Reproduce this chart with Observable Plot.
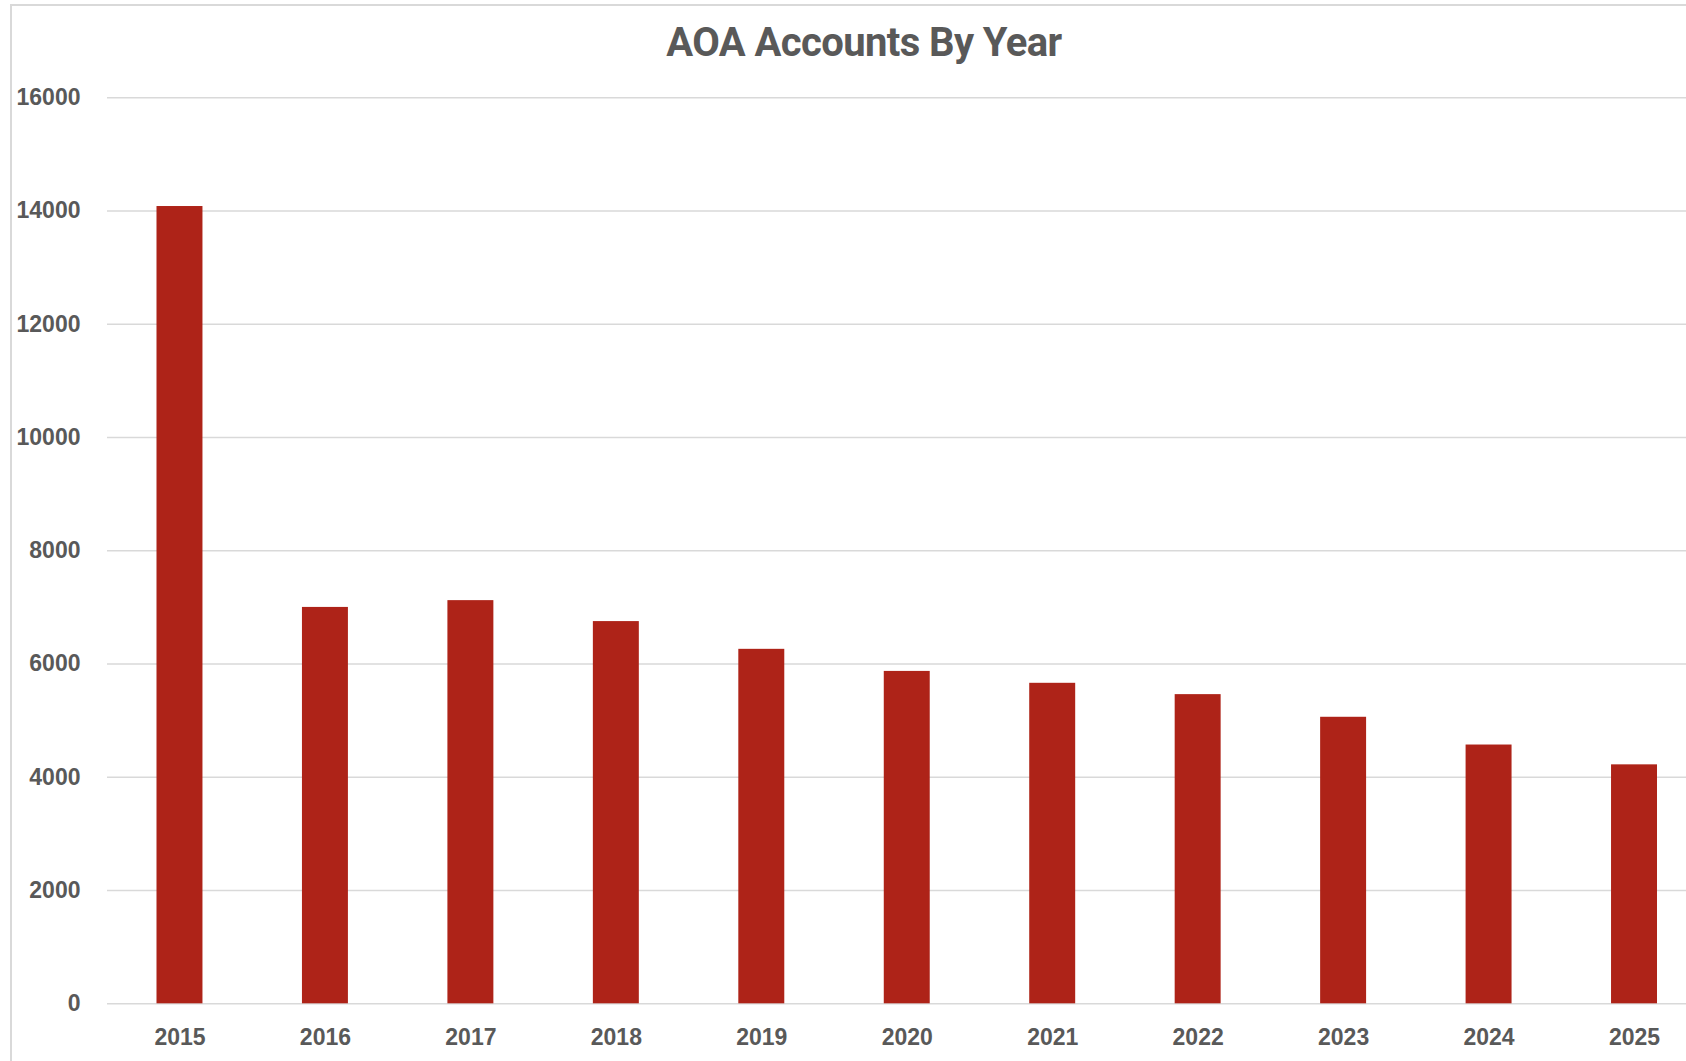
<!DOCTYPE html>
<html>
<head>
<meta charset="utf-8">
<script src="https://cdn.jsdelivr.net/npm/d3@7"></script>
<script src="https://cdn.jsdelivr.net/npm/@observablehq/plot@0.6"></script>
<style>
  html, body { margin: 0; padding: 0; background: #fff; overflow: hidden; }
  #wrap { position: relative; width: 1686px; height: 1061px; }
  #border { position: absolute; left: 10px; top: 4px; width: 2000px; height: 2000px;
            border-left: 2px solid #d9d9d9; border-top: 2px solid #d9d9d9; box-sizing: border-box; }
  #title { position: absolute; left: 0; width: 1728px; top: 19px; text-align: center;
           font-family: Roboto, "Liberation Sans", sans-serif; font-weight: bold; font-size: 40px;
           letter-spacing: -0.6px; color: #595959; line-height: 48px; }
  #chart { position: absolute; left: 0; top: 0; }
</style>
</head>
<body>
<div id="wrap">
  <div id="chart"></div>
  <div id="border"></div>
  <div id="title">AOA Accounts By Year</div>
</div>
<script>
const years = ["2015", "2016", "2017", "2018", "2019", "2020", "2021", "2022", "2023", "2024", "2025"];
const accounts = [14080, 7000, 7120, 6750, 6260, 5870, 5660, 5460, 5060, 4570, 4220];
const yTicks = [0, 2000, 4000, 6000, 8000, 10000, 12000, 14000, 16000];

const table = years.map((year, i) => ({year, value: accounts[i]}));

const chart = Plot.plot({
  width: 1686,
  height: 1061,
  marginLeft: 107,
  marginRight: 0,
  marginTop: 97.3,
  marginBottom: 57.7,
  style: {fontFamily: "'Liberation Sans', Arial, sans-serif", color: "#595959", background: "transparent", overflow: "visible"},
  x: {domain: years, range: [106.75, 1706.75], paddingInner: 0.684, paddingOuter: 0.342, align: 0.5, round: false},
  y: {domain: [0, 16000]},
  marks: [
    Plot.ruleY(yTicks, {stroke: "#d9d9d9", strokeWidth: 1.6}),
    Plot.barY(table, {x: "year", y: "value", fill: "#AE2318"}),
    Plot.axisY(yTicks, {tickSize: 0, tickPadding: 27, fontSize: 23, fontWeight: "bold", tickFormat: d => String(d), label: null}),
    Plot.axisX({tickSize: 0, tickPadding: 25, fontSize: 23, fontWeight: "bold", label: null})
  ]
});
document.getElementById("chart").appendChild(chart);
</script>
</body>
</html>
